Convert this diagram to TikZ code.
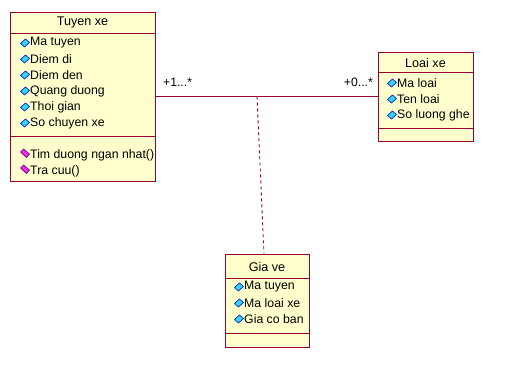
\documentclass[tikz,border=0pt]{standalone}
\usepackage{fontspec}
\setmainfont{Liberation Sans}
\usetikzlibrary{positioning}
\definecolor{classfill}{RGB}{255,255,206}
\definecolor{classline}{RGB}{153,0,51}
\definecolor{attrfill}{RGB}{60,210,255}
\definecolor{attrline}{RGB}{0,40,200}
\definecolor{opfill}{RGB}{240,40,240}
\definecolor{opline}{RGB}{110,0,110}

\tikzset{
    classbox/.style={draw=classline, fill=classfill, line width=0.9pt, inner sep=0pt},
    classname/.style={font=\fontsize{12.6}{14}\selectfont},
    member/.style={anchor=west, inner sep=0pt, font=\fontsize{12.3}{14}\selectfont},
    attricon/.style={fill=attrfill, draw=attrline, line width=0.7pt},
    opicon/.style={fill=opfill, draw=opline, line width=0.7pt},
    mult/.style={font=\fontsize{12.2}{14}\selectfont, inner sep=0pt}
}

% small diamond markers in front of the members
\newcommand{\attrmark}[2]{\draw[attricon] (#1-4.5,#2+0.5) -- (#1+0.5,#2-4) -- (#1+4.5,#2-0.5) -- (#1-0.5,#2+4) -- cycle;}
\newcommand{\opmark}[2]{\draw[opicon] (#1-4.5,#2-3) -- (#1-1.5,#2-6) -- (#1+4.5,#2-1) -- (#1+1.5,#2+2.5) -- cycle;}

\begin{document}
\begin{tikzpicture}[x=1pt, y=-1pt]
    \useasboundingbox (0,0) rectangle (523,375);

    % Tuyen xe
    \node[classbox, minimum width=145pt, minimum height=169pt] (tuyen) at (82.5,96.5) {};
    \draw[classline, line width=0.9pt] (10,33) -- (155,33);
    \draw[classline, line width=0.9pt] (10,136) -- (155,136);
    \node[classname] (tuyenname) at (82.5,22.5) {Tuyen xe};
    \foreach \y/\txt in {43/Ma tuyen, 59/Diem di, 75/Diem den, 91/Quang duong, 107/Thoi gian, 123/So chuyen xe} {
        \attrmark{25}{\y}
        \node[member] at (30,\y) {\txt};
    }
    \foreach \y/\txt in {155/Tim duong ngan nhat(), 171/Tra cuu()} {
        \opmark{25}{\y}
        \node[member] at (30,\y) {\txt};
    }

    % Loai xe
    \node[classbox, minimum width=95pt, minimum height=89pt] (loai) at (425.5,96.5) {};
    \draw[classline, line width=0.9pt] (378,72) -- (473,72);
    \draw[classline, line width=0.9pt] (378,128) -- (473,128);
    \node[classname] (loainame) at (425.5,63) {Loai xe};
    \foreach \y/\txt in {83/Ma loai, 99/Ten loai, 115/So luong ghe} {
        \attrmark{392}{\y}
        \node[member] at (397,\y) {\txt};
    }

    % Gia ve
    \node[classbox, minimum width=84pt, minimum height=93pt] (giave) at (267,300.5) {};
    \draw[classline, line width=0.9pt] (225,278) -- (309,278);
    \draw[classline, line width=0.9pt] (225,333) -- (309,333);
    \node[classname] (giavename) at (267,266.5) {Gia ve};
    \foreach \y/\txt in {287/Ma tuyen, 303/Ma loai xe, 319/Gia co ban} {
        \attrmark{239}{\y}
        \node[member] at (244,\y) {\txt};
    }

    % association and association class
    \draw[classline, line width=0.9pt] (tuyen.east) -- (loai.west);
    \coordinate (assoc) at (257,96.5);
    \draw[classline, line width=0.9pt, dash pattern=on 3pt off 3pt] (assoc) -- ([xshift=-3pt]giave.north);
    \node[mult, anchor=west] (m1) at (163,82) {+1...*};
    \node[mult, anchor=east] (m2) at (373,82) {+0...*};
\end{tikzpicture}
\end{document}
